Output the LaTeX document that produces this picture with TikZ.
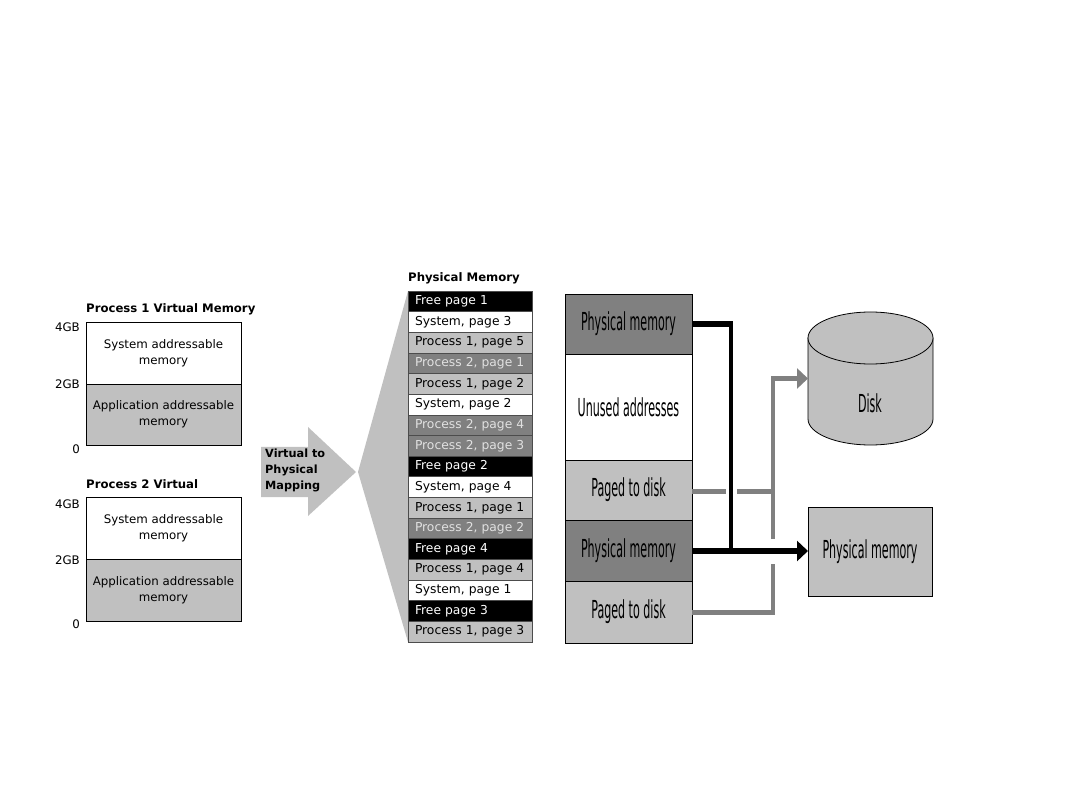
\documentclass[tikz,border=0pt]{standalone}
\usepackage{fontspec}
\setmainfont{DejaVu Sans}
\usepackage{graphicx}
\usetikzlibrary{arrows.meta, positioning, calc}
\definecolor{midgray}{RGB}{192,192,192}
\definecolor{darkgray}{RGB}{128,128,128}
\definecolor{paleink}{RGB}{225,225,225}
% tall narrow lettering of the address stack
\newcommand{\tallsq}[1]{\scalebox{0.94}[2.1]{#1}}
\begin{document}
\begin{tikzpicture}[x=1pt, y=-1pt,
  font=\fontsize{11.8}{16}\selectfont,
  vbox/.style={draw, fill=white, align=center, outer sep=0pt, inner sep=0pt,
               minimum width=155pt, minimum height=61.5pt},
  vapp/.style={vbox, fill=midgray},
  head/.style={anchor=west, inner sep=0pt, font=\fontsize{11.7}{14}\selectfont\bfseries},
  tick/.style={anchor=east, inner sep=0pt},
  page/.style={draw=black!70, line width=.7pt, anchor=west, outer sep=0pt, inner sep=0pt,
               minimum height=20.65pt, minimum width=124pt, text width=110pt, align=left,
               font=\fontsize{12.3}{16}\selectfont},
  pfree/.style={page, fill=black, text=white},
  psys/.style={page, fill=white},
  pone/.style={page, fill=midgray},
  ptwo/.style={page, fill=darkgray, text=paleink},
  addr/.style={draw=black, line width=.8pt, fill=midgray, outer sep=0pt, inner sep=0pt,
               minimum width=127pt},
  drum/.style={draw=black, line width=.8pt, fill=midgray},
  hard/.style={-{Triangle[length=11pt, width=20pt]}, line width=6pt, black},
  soft/.style={line width=5pt, darkgray},
  softv/.style={line width=3.5pt, darkgray}]
  \useasboundingbox (0,0) rectangle (1080,810);
  % process 1
  \node[head] (t1) at (86,309) {Process 1 Virtual Memory};
  \node[vbox] (s1) at (163.5,353) {System addressable\\memory};
  \node[vapp] (a1) at (163.5,414.5) {Application addressable\\memory};
  \node[tick] (g14) at (80,327) {4GB};
  \node[tick] (g12) at (80,384) {2GB};
  \node[tick] (g10) at (80,449) {0};
  % process 2
  \node[head] (t2) at (86,484) {Process 2 Virtual};
  \node[vbox] (s2) at (163.5,528) {System addressable\\memory};
  \node[vapp] (a2) at (163.5,590) {Application addressable\\memory};
  \node[tick] (g24) at (80,504) {4GB};
  \node[tick] (g22) at (80,560) {2GB};
  \node[tick] (g20) at (80,624) {0};
  % mapping arrow and fan
  \fill[midgray] (261,447) -- (308,447) -- (308,427) -- (356,472) -- (308,516)
    -- (308,497) -- (261,497) -- cycle;
  \fill[midgray] (358,472) -- (408,291) -- (408,642) -- cycle;
  \node[anchor=west, align=left, inner sep=0pt, font=\fontsize{11.3}{16}\selectfont\bfseries]
    (vm) at (265,470) {Virtual to\\Physical\\Mapping};
  % physical pages
  \node[head] (pt) at (408,278) {Physical Memory};
  \node[pfree] (p1) at (408,301.3) {Free page 1};
  \node[psys] (p2) at (408,321.95) {System, page 3};
  \node[pone] (p3) at (408,342.6) {Process 1, page 5};
  \node[ptwo] (p4) at (408,363.25) {Process 2, page 1};
  \node[pone] (p5) at (408,383.9) {Process 1, page 2};
  \node[psys] (p6) at (408,404.55) {System, page 2};
  \node[ptwo] (p7) at (408,425.2) {Process 2, page 4};
  \node[ptwo] (p8) at (408,445.85) {Process 2, page 3};
  \node[pfree] (p9) at (408,466.5) {Free page 2};
  \node[psys] (p10) at (408,487.15) {System, page 4};
  \node[pone] (p11) at (408,507.8) {Process 1, page 1};
  \node[ptwo] (p12) at (408,528.45) {Process 2, page 2};
  \node[pfree] (p13) at (408,549.1) {Free page 4};
  \node[pone] (p14) at (408,569.75) {Process 1, page 4};
  \node[psys] (p15) at (408,590.4) {System, page 1};
  \node[pfree] (p16) at (408,611.05) {Free page 3};
  \node[pone] (p17) at (408,631.7) {Process 1, page 3};
  % address stack
  \node[addr, fill=darkgray, minimum height=60pt] (m1) at (628.5,324) {\tallsq{Physical memory}};
  \node[addr, fill=white, minimum height=106pt] (un) at (628.5,407) {\tallsq{Unused addresses}};
  \node[addr, minimum height=60pt] (d1) at (628.5,490) {\tallsq{Paged to disk}};
  \node[addr, fill=darkgray, minimum height=61pt] (m2) at (628.5,550.5) {\tallsq{Physical memory}};
  \node[addr, minimum height=62pt] (d2) at (628.5,612) {\tallsq{Paged to disk}};
  % disk drum
  \draw[drum] (808,338) -- (808,419)
    arc[start angle=180, end angle=0, x radius=62.5, y radius=26] -- (933,338) -- cycle;
  \draw[drum] (870.5,338) ellipse [x radius=62.5, y radius=26];
  \coordinate (dk) at (808,378.5);
  \node[inner sep=0pt] (dl) at (870,403) {\tallsq{Disk}};
  \node[addr, minimum width=124pt, minimum height=89pt] (m3) at (870,551.5) {\tallsq{Physical memory}};
  % paging routes
  \coordinate (bj) at (731,324);
  \coordinate (bk) at (731,551);
  \coordinate (g1) at (726,491);
  \coordinate (g2) at (737,491);
  \coordinate (gj) at (773,491);
  \coordinate (gu) at (773,378.5);
  \coordinate (gl) at (773,539);
  \coordinate (gm) at (773,564);
  \coordinate (gb) at (773,612);
  \draw[soft] (d1.east |- g1) -- (g1);
  \draw[soft] (g2) -- (gj);
  \draw[softv] (gl) -- (gu);
  \draw[softv] (gm) -- (gb);
  \draw[soft] (d2.east |- gb) -- ($(gb)+(1.7,0)$);
  \draw[soft, -{Triangle[length=11pt, width=20pt]}] ($(gu)+(-1.7,0)$) -- (dk);
  \draw[line width=6pt] (m1.east) -- ($(bj)+(2,0)$);
  \draw[line width=3.5pt] (bj) -- (bk);
  \draw[hard] (m2.east |- bk) -- (m3.west |- bk);
\end{tikzpicture}
\end{document}
